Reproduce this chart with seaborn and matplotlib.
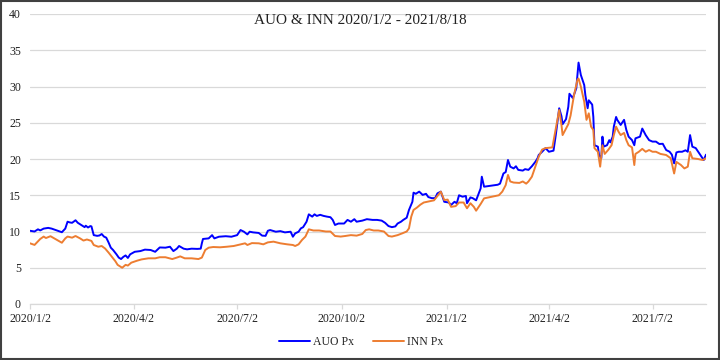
import matplotlib
matplotlib.use("Agg")
import matplotlib.pyplot as plt
import matplotlib.dates as mdates
from matplotlib.patches import Rectangle
import pandas as pd
import seaborn as sns

title = "AUO & INN 2020/1/2 - 2021/8/18"
series_names = ["AUO Px", "INN Px"]

auo_dates = [
    "2020-01-02", "2020-01-06", "2020-01-09", "2020-01-11", "2020-01-14", "2020-01-18", "2020-01-21",
    "2020-01-30", "2020-02-02", "2020-02-04", "2020-02-06", "2020-02-08", "2020-02-11", "2020-02-13",
    "2020-02-15", "2020-02-17", "2020-02-19", "2020-02-20", "2020-02-22", "2020-02-24", "2020-02-25",
    "2020-02-27", "2020-03-01", "2020-03-03", "2020-03-05", "2020-03-07", "2020-03-09", "2020-03-11",
    "2020-03-13", "2020-03-15", "2020-03-18", "2020-03-20", "2020-03-22", "2020-03-24", "2020-03-26",
    "2020-03-28", "2020-03-30", "2020-04-03", "2020-04-08", "2020-04-12", "2020-04-17", "2020-04-21",
    "2020-04-25", "2020-04-30", "2020-05-04", "2020-05-07", "2020-05-10", "2020-05-12", "2020-05-16",
    "2020-05-19", "2020-05-23", "2020-05-28", "2020-05-31", "2020-06-01", "2020-06-02", "2020-06-07",
    "2020-06-10", "2020-06-12", "2020-06-16", "2020-06-22", "2020-06-27", "2020-07-02", "2020-07-05",
    "2020-07-08", "2020-07-11", "2020-07-13", "2020-07-16", "2020-07-21", "2020-07-24", "2020-07-27",
    "2020-07-29", "2020-07-31", "2020-08-05", "2020-08-09", "2020-08-13", "2020-08-18", "2020-08-20",
    "2020-08-22", "2020-08-25", "2020-08-27", "2020-08-29", "2020-09-01", "2020-09-03", "2020-09-06",
    "2020-09-08", "2020-09-10", "2020-09-13", "2020-09-16", "2020-09-19", "2020-09-22", "2020-09-24",
    "2020-09-26", "2020-09-29", "2020-10-04", "2020-10-07", "2020-10-10", "2020-10-13", "2020-10-15",
    "2020-10-20", "2020-10-24", "2020-10-29", "2020-11-02", "2020-11-06", "2020-11-09", "2020-11-12",
    "2020-11-15", "2020-11-18", "2020-11-20", "2020-11-23", "2020-11-25", "2020-11-28", "2020-11-30",
    "2020-12-03", "2020-12-04", "2020-12-06", "2020-12-09", "2020-12-12", "2020-12-15", "2020-12-17",
    "2020-12-20", "2020-12-23", "2020-12-25", "2020-12-28", "2020-12-31", "2021-01-04", "2021-01-06",
    "2021-01-09", "2021-01-11", "2021-01-13", "2021-01-16", "2021-01-19", "2021-01-20", "2021-01-23",
    "2021-01-25", "2021-01-28", "2021-02-01", "2021-02-02", "2021-02-04", "2021-02-16", "2021-02-18",
    "2021-02-21", "2021-02-23", "2021-02-25", "2021-02-27", "2021-03-02", "2021-03-04", "2021-03-06",
    "2021-03-10", "2021-03-12", "2021-03-15", "2021-03-18", "2021-03-21", "2021-03-23", "2021-03-24",
    "2021-03-27", "2021-03-30", "2021-04-02", "2021-04-06", "2021-04-08", "2021-04-11", "2021-04-13",
    "2021-04-14", "2021-04-17", "2021-04-19", "2021-04-20", "2021-04-23", "2021-04-26", "2021-04-28",
    "2021-04-30", "2021-05-03", "2021-05-04", "2021-05-06", "2021-05-07", "2021-05-10", "2021-05-11",
    "2021-05-12", "2021-05-15", "2021-05-16", "2021-05-18", "2021-05-19", "2021-05-20", "2021-05-23",
    "2021-05-25", "2021-05-26", "2021-05-28", "2021-05-29", "2021-05-31", "2021-06-01", "2021-06-04",
    "2021-06-07", "2021-06-09", "2021-06-11", "2021-06-14", "2021-06-16", "2021-06-17", "2021-06-21",
    "2021-06-23", "2021-06-26", "2021-06-29", "2021-07-02", "2021-07-05", "2021-07-08", "2021-07-11",
    "2021-07-14", "2021-07-17", "2021-07-19", "2021-07-21", "2021-07-23", "2021-07-25", "2021-07-28",
    "2021-07-31", "2021-08-02", "2021-08-04", "2021-08-06", "2021-08-09", "2021-08-12", "2021-08-15",
    "2021-08-16", "2021-08-18",
]
auo_px = [
    10.1, 10.0, 10.3, 10.15, 10.4, 10.5, 10.4,
    9.9, 10.4, 11.35, 11.25, 11.2, 11.55, 11.2,
    11.0, 10.8, 10.6, 10.8, 10.55, 10.75, 10.7,
    9.5, 9.4, 9.45, 9.65, 9.3, 9.15, 8.5,
    7.77, 7.45, 6.85, 6.4, 6.2, 6.5, 6.7,
    6.35, 6.85, 7.2, 7.3, 7.5, 7.45, 7.2,
    7.8, 7.77, 7.9, 7.3, 7.63, 8.0, 7.63,
    7.54, 7.63, 7.6, 7.63, 8.37, 8.97, 9.05,
    9.5, 9.05, 9.28, 9.35, 9.28, 9.5, 10.2,
    9.97, 9.6, 9.97, 9.88, 9.8, 9.43, 9.4,
    10.1, 10.2, 9.97, 10.05, 9.88, 9.97, 9.28,
    9.74, 9.97, 10.43, 10.6, 11.35, 12.37, 12.05,
    12.37, 12.15, 12.3, 12.15, 12.05, 11.97, 11.6,
    10.9, 11.1, 11.1, 11.6, 11.35, 11.7, 11.35,
    11.5, 11.7, 11.6, 11.6, 11.5, 11.2, 10.75,
    10.6, 10.7, 11.1, 11.35, 11.6, 11.9, 12.97,
    14.1, 15.36, 15.2, 15.5, 15.05, 15.2, 14.75,
    14.6, 14.6, 15.26, 15.5, 14.1, 14.0, 13.66,
    14.1, 13.9, 15.0, 14.8, 14.9, 13.9, 14.7,
    14.6, 14.3, 15.95, 17.56, 16.18, 16.45, 16.6,
    18.0, 18.2, 19.86, 18.94, 18.7, 19.0, 18.5,
    18.4, 18.6, 18.5, 19.0, 19.6, 20.1, 20.55,
    21.0, 21.5, 21.0, 21.15, 23.3, 27.0, 25.9,
    24.8, 25.5, 27.2, 29.0, 28.4, 29.75, 33.3,
    31.6, 30.2, 28.8, 27.0, 28.1, 27.5, 25.8,
    21.9, 21.7, 20.55, 20.1, 23.08, 21.7, 21.9,
    22.6, 22.3, 23.08, 24.46, 25.8, 25.4, 24.7,
    25.4, 24.0, 23.08, 22.6, 21.9, 22.85, 23.08,
    24.2, 23.3, 22.6, 22.4, 22.4, 22.07, 22.1,
    21.24, 21.0, 20.6, 19.4, 20.9, 21.0, 21.0,
    21.2, 21.0, 23.3, 21.7, 21.5, 20.8, 20.1,
    19.86, 20.6,
]

inn_dates = [
    "2020-01-02", "2020-01-06", "2020-01-11", "2020-01-14", "2020-01-16", "2020-01-20", "2020-01-30",
    "2020-02-02", "2020-02-04", "2020-02-08", "2020-02-11", "2020-02-15", "2020-02-18", "2020-02-21",
    "2020-02-25", "2020-02-27", "2020-03-02", "2020-03-05", "2020-03-08", "2020-03-11", "2020-03-14",
    "2020-03-17", "2020-03-19", "2020-03-23", "2020-03-26", "2020-03-28", "2020-03-31", "2020-04-05",
    "2020-04-09", "2020-04-15", "2020-04-21", "2020-04-25", "2020-04-30", "2020-05-06", "2020-05-10",
    "2020-05-13", "2020-05-17", "2020-05-23", "2020-05-29", "2020-06-01", "2020-06-04", "2020-06-07",
    "2020-06-11", "2020-06-17", "2020-06-23", "2020-06-29", "2020-07-05", "2020-07-09", "2020-07-11",
    "2020-07-15", "2020-07-21", "2020-07-25", "2020-07-29", "2020-08-03", "2020-08-09", "2020-08-15",
    "2020-08-20", "2020-08-22", "2020-08-25", "2020-08-28", "2020-08-31", "2020-09-03", "2020-09-07",
    "2020-09-12", "2020-09-18", "2020-09-22", "2020-09-26", "2020-10-01", "2020-10-05", "2020-10-10",
    "2020-10-15", "2020-10-20", "2020-10-23", "2020-10-26", "2020-10-30", "2020-11-03", "2020-11-08",
    "2020-11-12", "2020-11-15", "2020-11-20", "2020-11-24", "2020-11-28", "2020-11-30", "2020-12-02",
    "2020-12-04", "2020-12-07", "2020-12-10", "2020-12-13", "2020-12-16", "2020-12-19", "2020-12-22",
    "2020-12-28", "2020-12-31", "2021-01-03", "2021-01-06", "2021-01-10", "2021-01-13", "2021-01-17",
    "2021-01-20", "2021-01-23", "2021-01-26", "2021-01-28", "2021-02-01", "2021-02-04", "2021-02-17",
    "2021-02-20", "2021-02-23", "2021-02-25", "2021-02-27", "2021-03-02", "2021-03-07", "2021-03-10",
    "2021-03-13", "2021-03-15", "2021-03-18", "2021-03-21", "2021-03-24", "2021-03-27", "2021-03-30",
    "2021-04-05", "2021-04-07", "2021-04-11", "2021-04-13", "2021-04-14", "2021-04-17", "2021-04-19",
    "2021-04-21", "2021-04-24", "2021-04-27", "2021-04-28", "2021-04-30", "2021-05-03", "2021-05-05",
    "2021-05-07", "2021-05-09", "2021-05-11", "2021-05-12", "2021-05-15", "2021-05-17", "2021-05-19",
    "2021-05-21", "2021-05-24", "2021-05-27", "2021-05-29", "2021-05-31", "2021-06-02", "2021-06-04",
    "2021-06-07", "2021-06-09", "2021-06-11", "2021-06-14", "2021-06-16", "2021-06-17", "2021-06-20",
    "2021-06-23", "2021-06-26", "2021-06-29", "2021-07-02", "2021-07-05", "2021-07-09", "2021-07-14",
    "2021-07-18", "2021-07-21", "2021-07-23", "2021-07-27", "2021-07-30", "2021-08-02", "2021-08-04",
    "2021-08-06", "2021-08-11", "2021-08-15", "2021-08-18",
]
inn_px = [
    8.37, 8.15, 8.97, 9.3, 9.1, 9.35, 8.45,
    9.05, 9.3, 9.15, 9.38, 9.05, 8.75, 8.9,
    8.7, 8.14, 7.9, 8.0, 7.65, 7.1, 6.5,
    5.9, 5.4, 5.0, 5.4, 5.3, 5.7, 5.97,
    6.15, 6.3, 6.3, 6.45, 6.45, 6.2, 6.4,
    6.57, 6.3, 6.3, 6.2, 6.4, 7.45, 7.77,
    7.86, 7.82, 7.9, 8.0, 8.23, 8.37, 8.14,
    8.4, 8.37, 8.23, 8.5, 8.6, 8.37, 8.23,
    8.14, 8.0, 8.23, 8.83, 9.3, 10.3, 10.14,
    10.14, 10.0, 10.0, 9.38, 9.3, 9.38, 9.5,
    9.43, 9.66, 10.2, 10.3, 10.14, 10.14, 10.0,
    9.38, 9.3, 9.5, 9.74, 10.0, 10.43, 12.05,
    12.97, 13.3, 13.7, 14.0, 14.1, 14.2, 14.3,
    15.5, 14.34, 14.4, 13.4, 13.5, 14.0, 14.0,
    13.2, 13.9, 13.4, 12.87, 13.8, 14.57, 15.0,
    15.5, 16.4, 17.8, 16.9, 16.75, 16.7, 16.9,
    16.6, 16.9, 17.56, 18.94, 20.3, 21.3, 21.5,
    21.6, 23.3, 26.76, 24.7, 23.3, 24.2, 24.8,
    26.0, 28.8, 30.9, 31.1, 30.0, 27.9, 25.4,
    26.3, 24.46, 24.0, 21.5, 21.0, 18.94, 21.9,
    20.7, 21.24, 21.9, 23.3, 24.46, 23.8, 23.3,
    23.6, 22.6, 21.9, 21.6, 19.17, 20.7, 21.0,
    21.4, 21.0, 21.24, 21.0, 21.0, 20.7, 20.55,
    20.1, 18.0, 19.6, 19.17, 18.7, 18.94, 21.0,
    20.1, 20.0, 19.86, 20.1,
]

x_tick_dates = ["2020-01-02", "2020-04-02", "2020-07-02", "2020-10-02",
                "2021-01-02", "2021-04-02", "2021-07-02"]
x_tick_labels = ["2020/1/2", "2020/4/2", "2020/7/2", "2020/10/2",
                 "2021/1/2", "2021/4/2", "2021/7/2"]
y_ticks = [0, 5, 10, 15, 20, 25, 30, 35, 40]
x_range = ["2020-01-02", "2021-08-18"]

sns.set_theme(style="white")
plt.rcParams["font.family"] = ["Liberation Serif", "DejaVu Serif"]

df = pd.concat([
    pd.DataFrame({"date": pd.to_datetime(auo_dates), "price": auo_px, "series": series_names[0]}),
    pd.DataFrame({"date": pd.to_datetime(inn_dates), "price": inn_px, "series": series_names[1]}),
], ignore_index=True)

fig = plt.figure(figsize=(7.2, 3.6), dpi=100)
ax = fig.add_axes([30 / 720, 56 / 360, 676 / 720, 290 / 360])

palette = {series_names[0]: "#0000FF", series_names[1]: "#ED7D31"}
sns.lineplot(data=df, x="date", y="price", hue="series", hue_order=series_names,
             palette=palette, linewidth=1.4, ax=ax, legend=True)

ax.set_xlim(pd.Timestamp(x_range[0]), pd.Timestamp(x_range[1]))
ax.set_ylim(0, 40)
ax.set_yticks(y_ticks)
ax.set_yticklabels([str(v) for v in y_ticks])
ax.set_xticks(pd.to_datetime(x_tick_dates))
ax.set_xticklabels(x_tick_labels)
ax.set_xlabel("")
ax.set_ylabel("")

ax.grid(axis="y", color="#d9d9d9", linewidth=0.9)
ax.grid(axis="x", visible=False)
ax.set_axisbelow(True)
for s in ["left", "right", "top"]:
    ax.spines[s].set_visible(False)
ax.spines["bottom"].set_color("#d9d9d9")
ax.spines["bottom"].set_linewidth(0.9)
ax.tick_params(axis="y", length=0, pad=6.5, labelsize=8.5, labelcolor="#222222")
ax.tick_params(axis="x", length=3.5, width=0.9, color="#d9d9d9", pad=3,
               labelsize=8.5, labelcolor="#222222", bottom=True)

handles, labels = ax.get_legend_handles_labels()
ax.legend_.remove() if ax.legend_ else None
fig.legend(handles, labels, loc="center", bbox_to_anchor=(0.502, 0.05), ncol=2,
           frameon=False, fontsize=8.5, handlelength=2.6, columnspacing=1.6,
           handletextpad=0.3)

fig.text(0.5, (360 - 20) / 360, title, ha="center", va="center", fontsize=11,
         color="#222222")

fig.patches.append(Rectangle((0.0015, 0.003), 0.997, 0.994, transform=fig.transFigure,
                             fill=False, edgecolor="#404040", linewidth=1.5))

fig.savefig("out.png", dpi=100)
